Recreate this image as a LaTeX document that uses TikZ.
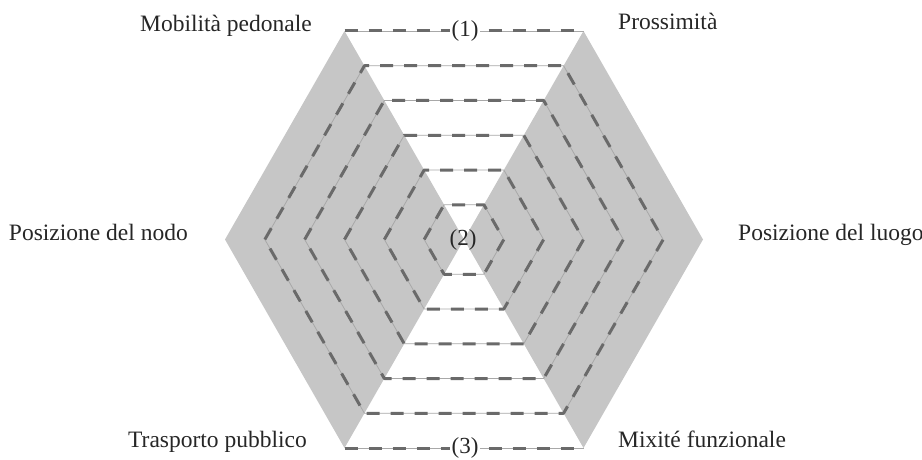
\documentclass[tikz,border=0pt]{standalone}
\usepackage{fontspec}
\setmainfont{Liberation Serif}
\definecolor{sidegrey}{HTML}{C6C6C6}
\definecolor{guidegrey}{HTML}{A8A8A8}
\definecolor{dashgrey}{HTML}{6A6A6A}
\begin{document}
\begin{tikzpicture}[x=1pt,y=-1pt,
  sector/.style={fill=sidegrey, draw=none},
  ringbase/.style={draw=guidegrey, line width=0.8pt, line join=round},
  ringdash/.style={draw=dashgrey, line width=3pt, dash pattern=on 13pt off 11pt, line join=round},
  lbl/.style={font=\fontsize{23.5}{27}\selectfont, inner sep=0pt, text=black!85},
  marker/.style={font=\fontsize{23}{27}\selectfont, inner sep=2pt, text=black!85}
]
\useasboundingbox (0,0) rectangle (922,460);
\coordinate (C) at (464,239.5);

\begin{scope}[shift={(C)}]
  % outer hexagon: half width 239, half height 208.5
  \coordinate (TL) at (-119.5,-208.5);
  \coordinate (TR) at (119.5,-208.5);
  \coordinate (R)  at (239,0);
  \coordinate (BR) at (119.5,208.5);
  \coordinate (BL) at (-119.5,208.5);
  \coordinate (L)  at (-239,0);
  \coordinate (O)  at (0,0);

  % grey side sectors
  \fill[sector] (TL) -- (L) -- (BL) -- (O) -- cycle;
  \fill[sector] (TR) -- (R) -- (BR) -- (O) -- cycle;

  % inner concentric hexagons
  \foreach \k in {1,...,5}{
    \pgfmathsetmacro\w{239*\k/6}
    \pgfmathsetmacro\h{208.5*\k/6}
    \draw[ringbase] (-\w,0) -- (-\w/2,-\h) -- (\w/2,-\h) -- (\w,0) -- (\w/2,\h) -- (-\w/2,\h) -- cycle;
    \draw[ringdash] (-\w,0) -- (-\w/2,-\h) -- (\w/2,-\h) -- (\w,0) -- (\w/2,\h) -- (-\w/2,\h) -- cycle;
  }

  % outer top and bottom edges
  \draw[ringbase] (TL) -- (TR);
  \draw[ringdash] (TL) -- (TR);
  \draw[ringbase] (BL) -- (BR);
  \draw[ringdash] (BL) -- (BR);
\end{scope}

% markers
\node[marker, fill=white] (m1) at (465,31) {(1)};
\node[marker] (m2) at (463,240) {(2)};
\node[marker, fill=white] (m3) at (465,448) {(3)};

% axis labels
\node[lbl, anchor=base east] (mob) at (312,32) {Mobilità pedonale};
\node[lbl, anchor=base west] (pro) at (618,30) {Prossimità};
\node[lbl, anchor=base east] (nodo) at (188,240) {Posizione del nodo};
\node[lbl, anchor=base west] (luogo) at (738,240) {Posizione del luogo};
\node[lbl, anchor=base east] (tra) at (307,447) {Trasporto pubblico};
\node[lbl, anchor=base west] (mix) at (618,447) {Mixité funzionale};
\end{tikzpicture}
\end{document}
